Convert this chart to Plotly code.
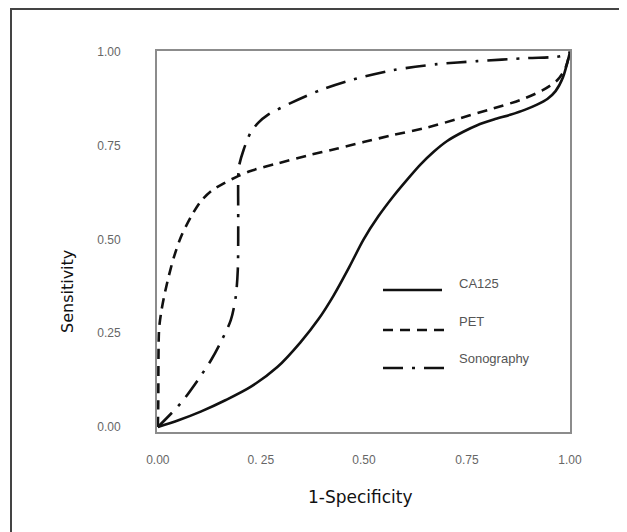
import plotly.graph_objects as go

# ---- data ----
ca125_x = [0.0, 0.050, 0.104, 0.165, 0.225, 0.290, 0.346, 0.390, 0.426, 0.465, 0.499, 0.535, 0.571, 0.605,
           0.637, 0.670, 0.702, 0.740, 0.775, 0.815, 0.855, 0.890, 0.920, 0.945, 0.965, 0.983, 1.0]
ca125_y = [0.0, 0.018, 0.041, 0.072, 0.107, 0.160, 0.226, 0.288, 0.350, 0.428, 0.500, 0.562, 0.615, 0.660,
           0.700, 0.735, 0.763, 0.787, 0.805, 0.820, 0.833, 0.846, 0.860, 0.875, 0.896, 0.933, 1.0]

pet_x = [0.0, 0.001, 0.003, 0.008, 0.015, 0.026, 0.039, 0.056, 0.080, 0.104, 0.130, 0.160, 0.196, 0.225, 0.290,
         0.363, 0.436, 0.499, 0.571, 0.654, 0.734, 0.814, 0.879, 0.935, 0.969, 0.988, 1.0]
pet_y = [0.0, 0.060, 0.260, 0.305, 0.347, 0.400, 0.453, 0.507, 0.560, 0.602, 0.630, 0.650, 0.670, 0.683, 0.703,
         0.724, 0.743, 0.760, 0.779, 0.799, 0.824, 0.850, 0.872, 0.899, 0.925, 0.955, 1.0]

sono_x = [0.0, 0.056, 0.097, 0.130, 0.153, 0.177, 0.189, 0.194, 0.195, 0.195, 0.195, 0.197, 0.208, 0.225, 0.244,
          0.266, 0.322, 0.395, 0.467, 0.571, 0.678, 0.775, 0.896, 0.976, 1.0]
sono_y = [0.0, 0.064, 0.125, 0.180, 0.227, 0.285, 0.347, 0.419, 0.499, 0.580, 0.659, 0.696, 0.739, 0.785, 0.812,
          0.832, 0.864, 0.899, 0.925, 0.952, 0.968, 0.976, 0.984, 0.989, 1.0]

tick_vals = [0.0, 0.25, 0.5, 0.75, 1.0]
x_tick_text = ["0.00", "0. 25", "0.50", "0.75", "1.00"]
y_tick_text = ["0.00", "0.25", "0.50", "0.75", "1.00"]

series_names = ["CA125", "PET", "Sonography"]
x_title = "1-Specificity"
y_title = "Sensitivity"

# ---- styling ----
FONT = "Liberation Sans, Arial, sans-serif"
TFONT = "DejaVu Sans, sans-serif"
dashes = ["solid", "10px,7px", "20px,9px,3px,9px"]
LW = 2.6

fig = go.Figure()
for xs, ys, nm, ds in [(ca125_x, ca125_y, series_names[0], dashes[0]),
                       (pet_x, pet_y, series_names[1], dashes[1]),
                       (sono_x, sono_y, series_names[2], dashes[2])]:
    fig.add_trace(go.Scatter(x=xs, y=ys, mode="lines", name=nm,
                             line=dict(color="#111111", width=LW, dash=ds, shape="spline", smoothing=0.8),
                             showlegend=False))

# page has an 8px body margin; target page pixels are converted to figure pixels
OFF = 8
L, R, T, B = 157 - OFF, 570 - OFF, 51 - OFF, 432 - OFF
W, H = 627, 532
def px(xp):
    return (xp - OFF - L) / (R - L)
def py(yp):
    return (B - (yp - OFF)) / (B - T)

shapes = []
# outer frame
shapes.append(dict(type="rect", xref="paper", yref="paper",
                   x0=px(11), x1=px(622), y0=py(600), y1=py(9),
                   line=dict(color="#444444", width=2), fillcolor="rgba(0,0,0,0)"))

# custom legend
legend_rows = [(290, 383, 442), (330, 383, 448), (368, 383, 452)]
label_y = [283, 321, 358]
annotations = []
for (ly, lx0, lx1), ds, nm, ty in zip(legend_rows, dashes, series_names, label_y):
    shapes.append(dict(type="line", xref="paper", yref="paper",
                       x0=px(lx0), x1=px(lx1), y0=py(ly), y1=py(ly),
                       line=dict(color="#111111", width=LW, dash=ds)))
    annotations.append(dict(text=nm, xref="paper", yref="paper", x=px(457), y=py(ty),
                            xanchor="left", yanchor="middle", showarrow=False,
                            font=dict(family=FONT, size=13, color="#555555")))

annotations.append(dict(text=x_title, xref="paper", yref="paper", x=px(360), y=py(497),
                        xanchor="center", yanchor="middle", showarrow=False,
                        font=dict(family=TFONT, size=17, color="#111111")))
annotations.append(dict(text=y_title, xref="paper", yref="paper", x=px(67), y=py(292),
                        xanchor="center", yanchor="middle", showarrow=False, textangle=-90,
                        font=dict(family=TFONT, size=16, color="#111111")))

fig.update_layout(
    width=W, height=H,
    margin=dict(l=L, r=W - R, t=T, b=H - B, pad=0),
    paper_bgcolor="white", plot_bgcolor="white",
    shapes=shapes, annotations=annotations,
    showlegend=False,
)
fig.update_xaxes(range=[-0.002, 1.0], tickvals=tick_vals, ticktext=x_tick_text,
                 showgrid=False, zeroline=False, showline=True, mirror=True,
                 linecolor="#8c8c8c", linewidth=2, ticks="", ticklabelstandoff=16,
                 tickfont=dict(family=FONT, size=12, color="#666666"))
fig.update_yaxes(range=[-0.0133, 1.003], tickvals=tick_vals, ticktext=y_tick_text,
                 showgrid=False, zeroline=False, showline=True, mirror=True,
                 linecolor="#8c8c8c", linewidth=2, ticks="", ticklabelstandoff=32,
                 tickfont=dict(family=FONT, size=12, color="#666666"))

fig.write_html("out.html")
